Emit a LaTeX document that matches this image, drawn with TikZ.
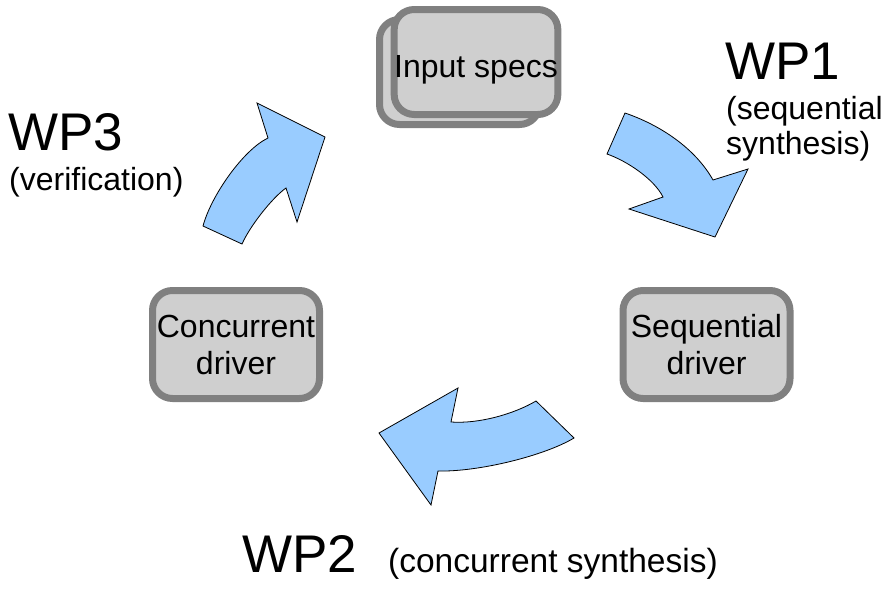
\documentclass[tikz,border=0pt]{standalone}
\usepackage{fontspec}
\setmainfont{Liberation Sans}
\definecolor{boxfill}{HTML}{CFCFCF}
\definecolor{boxline}{HTML}{808080}
\definecolor{arrowfill}{HTML}{99CCFF}
\begin{document}
\begin{tikzpicture}[x=1pt,y=-1pt,
  stagebox/.style={draw=boxline, fill=boxfill, line width=7pt, rounded corners=20pt,
    minimum width=167pt, minimum height=108pt, inner sep=0pt, align=center,
    font=\fontsize{32}{37}\selectfont},
  bigarrow/.style={fill=arrowfill, draw=black, line width=0.8pt, line join=miter},
  wplabel/.style={anchor=base west, inner sep=0pt, font=\fontsize{53}{60}\selectfont},
  sublabel/.style={anchor=base west, inner sep=0pt, align=left, font=\fontsize{32}{35}\selectfont}]
\useasboundingbox (0,0) rectangle (888,589);

% input specs (stacked)
\node[stagebox, minimum width=160pt, minimum height=105pt] (inback) at (459.5,72) {};
\node[stagebox, minimum width=161pt, minimum height=105pt, text height=30pt, text depth=0pt] (input) at (476,62) {Input specs};

% drivers
\node[stagebox] (conc) at (236,344.5) {Concurrent\\driver};
\node[stagebox] (seq) at (706.5,344.5) {Sequential\\driver};

% arrow WP1
\draw[bigarrow] (625,113) -- (607,154)
  .. controls (627,161) and (654,179) .. (663,197)
  -- (629,209) -- (715,237) -- (748,169) -- (713,180)
  .. controls (695,148) and (660,125) .. (625,113) -- cycle;

% arrow WP2
\draw[bigarrow] (536,401) -- (574,438)
  .. controls (544,456) and (478,472) .. (438,471)
  -- (431,505) -- (379,433) -- (458,388) -- (451,422)
  .. controls (479,424) and (514,414) .. (536,401) -- cycle;

% arrow WP3
\draw[bigarrow] (203,226) -- (242,244)
  .. controls (250,226) and (272,198) .. (286,188)
  -- (297,222) -- (325,137) -- (257,103) -- (268,138)
  .. controls (243,150) and (211,196) .. (203,226) -- cycle;

% labels
\node[wplabel] (wp1) at (725,79) {WP1};
\node[sublabel] (wp1s) at (726,154) {(sequential\\synthesis)};
\node[wplabel] (wp3) at (8,150) {WP3};
\node[sublabel] (wp3s) at (9,190) {(verification)};
\node[wplabel] (wp2) at (242,572) {WP2};
\node[sublabel, font=\fontsize{33.5}{35}\selectfont] (wp2s) at (388,572) {(concurrent synthesis)};
\end{tikzpicture}
\end{document}
